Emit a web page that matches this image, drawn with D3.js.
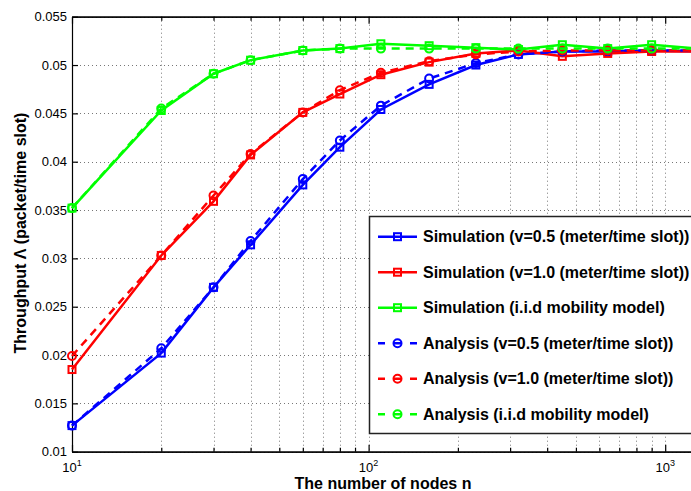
<!DOCTYPE html>
<html>
<head>
<meta charset="utf-8">
<script src="https://cdn.jsdelivr.net/npm/d3@7"></script>
<style>
	body { margin: 0; background: #fff; }
	text { font-family: "Liberation Sans", Arial, sans-serif; }
</style>
</head>
<body>
<div id="chart"></div>
<script>
// number of nodes n
var nodes = [10, 20, 30, 40, 60, 80, 110, 160, 230, 320, 450, 640, 900, 1280];

// throughput, simulation
var simV05 = [0.0127, 0.0202, 0.0270, 0.0314, 0.0376, 0.0415, 0.0454, 0.0480, 0.0500, 0.0511, 0.0514, 0.0514, 0.0515, 0.0514];
var simV10 = [0.0185, 0.0303, 0.0359, 0.0407, 0.0451, 0.0470, 0.0490, 0.0503, 0.0512, 0.0515, 0.0509, 0.0512, 0.0514, 0.0514];
var simIid = [0.0352, 0.0453, 0.0491, 0.0505, 0.0515, 0.0517, 0.0522, 0.0520, 0.0518, 0.0516, 0.0521, 0.0517, 0.0521, 0.0517];

// throughput, analysis
var anaV05 = [0.0127, 0.0207, 0.0270, 0.0318, 0.0382, 0.0422, 0.0458, 0.0486, 0.0502, 0.0511, 0.0514, 0.0515, 0.0515, 0.0515];
var anaV10 = [0.0199, 0.0303, 0.0365, 0.0408, 0.0451, 0.0474, 0.0492, 0.0504, 0.0511, 0.0514, 0.0515, 0.0515, 0.0515, 0.0515];
var anaIid = [0.0352, 0.0455, 0.0491, 0.0505, 0.0515, 0.0517, 0.0517, 0.0517, 0.0517, 0.0517, 0.0517, 0.0517, 0.0517, 0.0517];

var seriesNames = [
	"Simulation (v=0.5 (meter/time slot))",
	"Simulation (v=1.0 (meter/time slot))",
	"Simulation (i.i.d mobility model)",
	"Analysis (v=0.5 (meter/time slot))",
	"Analysis (v=1.0 (meter/time slot))",
	"Analysis (i.i.d mobility model)"
];

var yTicks = [0.01, 0.015, 0.02, 0.025, 0.03, 0.035, 0.04, 0.045, 0.05, 0.055];
var yTickLabels = ["0.01", "0.015", "0.02", "0.025", "0.03", "0.035", "0.04", "0.045", "0.05", "0.055"];
var xTicks = [10, 100, 1000];
var xTickExponents = ["1", "2", "3"];
var xMinorTicks = [20, 30, 40, 50, 60, 70, 80, 90, 200, 300, 400, 500, 600, 700, 800, 900];

var xTitle = "The number of nodes n";
var yTitle = "Throughput \u039B (packet/time slot)";

var width = 691;
var height = 491;
var margin = {left: 72, top: 16.7, right: 697, bottom: 451.7};

var series = [
	{name: seriesNames[0], values: simV05, color: "#0000ff", dashed: false, marker: "square"},
	{name: seriesNames[1], values: simV10, color: "#ff0000", dashed: false, marker: "square"},
	{name: seriesNames[2], values: simIid, color: "#00ff00", dashed: false, marker: "square"},
	{name: seriesNames[3], values: anaV05, color: "#0000ff", dashed: true, marker: "circle"},
	{name: seriesNames[4], values: anaV10, color: "#ff0000", dashed: true, marker: "circle"},
	{name: seriesNames[5], values: anaIid, color: "#00ff00", dashed: true, marker: "circle"}
];

var svg = d3.select("#chart").append("svg")
	.attr("width", width)
	.attr("height", height);

var x = d3.scaleLog().domain([10, 1280]).range([margin.left, margin.right]);
var y = d3.scaleLinear().domain([0.01, 0.055]).range([margin.bottom, margin.top]);

// dotted grid
var grid = svg.append("g")
	.attr("stroke", "#777")
	.attr("stroke-width", 1)
	.attr("stroke-dasharray", "1,3");

grid.selectAll("line.gx")
	.data(xMinorTicks.concat(xTicks))
	.enter()
	.append("line")
	.attr("class", "gx")
	.attr("x1", function(d) { return Math.round(x(d)) + 0.5; })
	.attr("x2", function(d) { return Math.round(x(d)) + 0.5; })
	.attr("y1", margin.top)
	.attr("y2", margin.bottom);

grid.selectAll("line.gy")
	.data(yTicks)
	.enter()
	.append("line")
	.attr("class", "gy")
	.attr("x1", margin.left)
	.attr("x2", margin.right)
	.attr("y1", function(d) { return Math.round(y(d)) + 0.5; })
	.attr("y2", function(d) { return Math.round(y(d)) + 0.5; });

// axes, ticks pointing inward
var fontSize = 13;

var yAxis = svg.append("g")
	.attr("transform", "translate(" + margin.left + ",0)")
	.call(d3.axisLeft(y)
		.tickValues(yTicks)
		.tickFormat(function(d, i) { return yTickLabels[i]; })
		.tickSize(-6)
		.tickSizeOuter(0)
		.tickPadding(5));

svg.append("g")
	.attr("transform", "translate(0," + margin.bottom + ")")
	.call(d3.axisBottom(x)
		.tickValues(xTicks)
		.tickFormat(function() { return ""; })
		.tickSize(-7)
		.tickSizeOuter(0));

svg.append("g")
	.attr("transform", "translate(0," + margin.bottom + ")")
	.call(d3.axisBottom(x)
		.tickValues(xMinorTicks)
		.tickFormat(function() { return ""; })
		.tickSize(-4)
		.tickSizeOuter(0));

svg.append("g")
	.attr("transform", "translate(0," + margin.top + ")")
	.call(d3.axisTop(x)
		.tickValues(xTicks)
		.tickFormat(function() { return ""; })
		.tickSize(-7)
		.tickSizeOuter(0));

svg.append("g")
	.attr("transform", "translate(0," + margin.top + ")")
	.call(d3.axisTop(x)
		.tickValues(xMinorTicks)
		.tickFormat(function() { return ""; })
		.tickSize(-4)
		.tickSizeOuter(0));

svg.selectAll(".domain, .tick line")
	.attr("stroke", "#000")
	.attr("stroke-width", 1.2);

yAxis.selectAll("text")
	.attr("font-size", fontSize)
	.attr("font-family", "Liberation Sans, Arial, sans-serif")
	.attr("fill", "#000");

// x tick labels as powers of ten
var xLabels = svg.append("g");
xTicks.forEach(function(d, i) {
	var t = xLabels.append("text")
		.attr("x", x(d))
		.attr("y", 472)
		.attr("text-anchor", "middle")
		.attr("font-size", fontSize)
		.attr("fill", "#000");
	t.append("tspan").text("10");
	t.append("tspan")
		.attr("dy", -6)
		.attr("font-size", 9)
		.text(xTickExponents[i]);
});

// axis titles
svg.append("text")
	.attr("x", 383)
	.attr("y", 489)
	.attr("text-anchor", "middle")
	.attr("font-size", 16)
	.attr("font-weight", "bold")
	.text(xTitle);

svg.append("text")
	.attr("transform", "translate(26," + 233 + ") rotate(-90)")
	.attr("text-anchor", "middle")
	.attr("font-size", 16)
	.attr("font-weight", "bold")
	.text(yTitle);

// data
var line = d3.line()
	.x(function(d) { return x(d[0]); })
	.y(function(d) { return y(d[1]); });

function drawMarker(g, kind, cx, cy, color) {
	if (kind == "square") {
		g.append("rect")
			.attr("x", cx - 3.5)
			.attr("y", cy - 3.5)
			.attr("width", 7)
			.attr("height", 7)
			.attr("fill", "none")
			.attr("stroke", color)
			.attr("stroke-width", 2);
	} else {
		g.append("circle")
			.attr("cx", cx)
			.attr("cy", cy)
			.attr("r", 4)
			.attr("fill", "none")
			.attr("stroke", color)
			.attr("stroke-width", 2);
	}
}

series.forEach(function(s) {
	var pts = nodes.map(function(n, i) { return [n, s.values[i]]; });
	var g = svg.append("g");
	g.append("path")
		.attr("d", line(pts))
		.attr("fill", "none")
		.attr("stroke", s.color)
		.attr("stroke-width", 2.5)
		.attr("stroke-dasharray", s.dashed ? "8,6" : null);
	pts.forEach(function(p) {
		drawMarker(g, s.marker, x(p[0]), y(p[1]), s.color);
	});
});

// legend
var legend = svg.append("g");
legend.append("rect")
	.attr("x", 369.5)
	.attr("y", 216.5)
	.attr("width", 330)
	.attr("height", 217)
	.attr("fill", "#fff")
	.attr("stroke", "#222")
	.attr("stroke-width", 1.5);

series.forEach(function(s, i) {
	var ry = 236.7 + i * 35.5;
	legend.append("line")
		.attr("x1", 378)
		.attr("x2", 417)
		.attr("y1", ry)
		.attr("y2", ry)
		.attr("stroke", s.color)
		.attr("stroke-width", 2.5)
		.attr("stroke-dasharray", s.dashed ? "7,9" : null);
	drawMarker(legend, s.marker, 397.5, ry, s.color);
	legend.append("text")
		.attr("x", 423)
		.attr("y", ry)
		.attr("dy", "0.36em")
		.attr("font-size", 16)
		.attr("font-weight", "bold")
		.attr("fill", "#000")
		.text(s.name);
});
</script>
</body>
</html>
